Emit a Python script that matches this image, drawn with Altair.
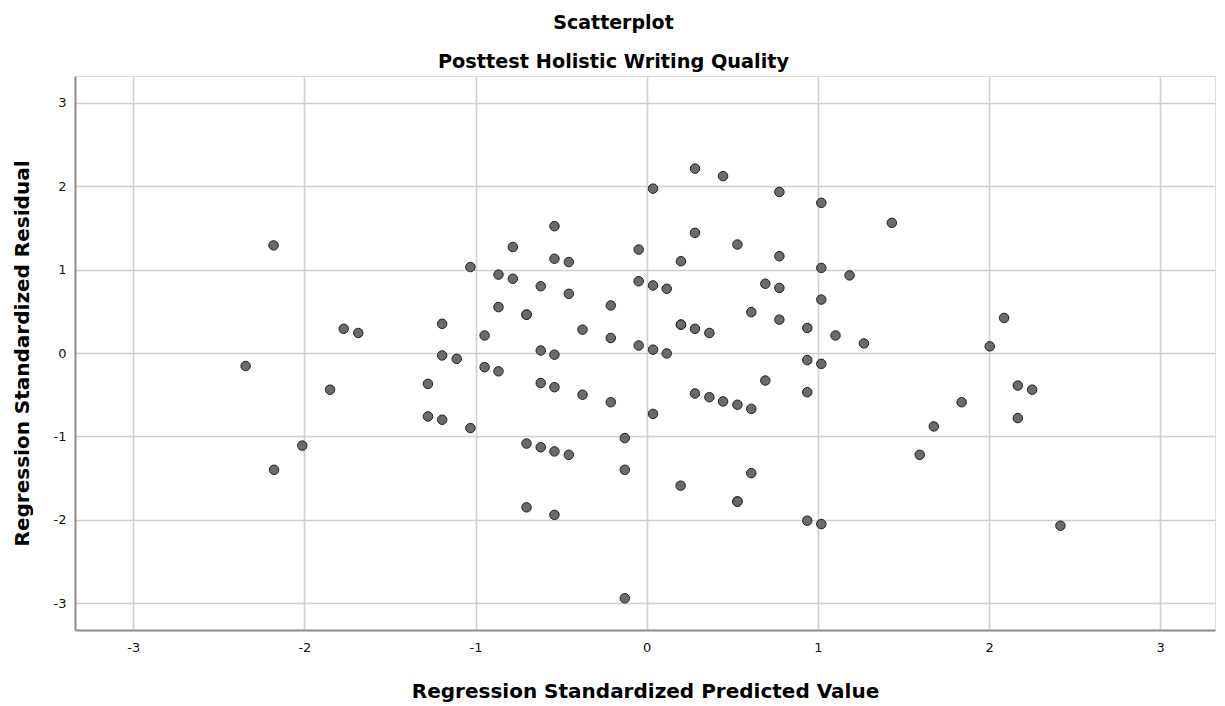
import altair as alt
import pandas as pd

# Regression standardized predicted values (x) and residuals (y)
pred = [
    -2.343, -2.18, -2.177, -2.012, -1.85, -1.77, -1.685,
    -1.278, -1.278, -1.195, -1.195, -1.195, -1.11, -1.03, -1.03,
    -0.947, -0.947, -0.866, -0.866, -0.866, -0.782, -0.782,
    -0.702, -0.702, -0.702, -0.702,
    -0.619, -0.619, -0.619, -0.619,
    -0.539, -0.539, -0.539, -0.539, -0.539, -0.539,
    -0.455, -0.455, -0.455, -0.375, -0.375,
    -0.21, -0.21, -0.21, -0.128, -0.128, -0.128,
    -0.047, -0.047, -0.047, 0.037, 0.037, 0.037, 0.037,
    0.117, 0.117, 0.2, 0.2, 0.2, 0.198,
    0.282, 0.282, 0.282, 0.282, 0.366, 0.366, 0.446, 0.446,
    0.53, 0.53, 0.53, 0.53, 0.611, 0.611, 0.611, 0.693, 0.693,
    0.775, 0.775, 0.775, 0.775, 0.938, 0.938, 0.938, 0.938,
    1.02, 1.02, 1.02, 1.02, 1.02, 1.103, 1.185, 1.269, 1.432,
    1.595, 1.677, 1.84, 2.004, 2.088, 2.168, 2.168, 2.252, 2.417,
]
resid = [
    -0.156, 1.29, -1.40, -1.11, -0.44, 0.29, 0.24,
    -0.37, -0.76, 0.35, -0.03, -0.80, -0.07, 1.03, -0.90,
    0.21, -0.17, 0.94, 0.55, -0.22, 1.27, 0.89,
    0.46, 0.46, -1.085, -1.85,
    0.80, 0.03, -0.36, -1.13,
    1.52, 1.13, -0.02, -0.41, -1.18, -1.94,
    1.09, 0.71, -1.22, 0.28, -0.50,
    0.57, 0.18, -0.59, -1.02, -1.40, -2.94,
    1.24, 0.86, 0.09, 1.97, 0.81, 0.04, -0.73,
    0.77, -0.005, 1.10, 0.34, 0.34, -1.59,
    2.21, 1.44, 0.29, -0.485, 0.24, -0.53, 2.12, -0.58,
    1.30, -0.62, -1.78, -1.78, 0.49, -0.67, -1.44, 0.83, -0.33,
    1.93, 1.16, 0.78, 0.40, 0.30, -0.085, -0.47, -2.01,
    1.80, 1.02, 0.64, -0.13, -2.05, 0.21, 0.93, 0.115, 1.56,
    -1.22, -0.88, -0.59, 0.08, 0.42, -0.39, -0.78, -0.44, -2.07,
]
tick_values = [-3, -2, -1, 0, 1, 2, 3]

df = pd.DataFrame({"pred": pred, "resid": resid})

FONT = "DejaVu Sans"

def axis(title, label_pad, title_pad):
    return alt.Axis(
        title=title,
        values=tick_values,
        labelExpr="'' + datum.value",
        ticks=False,
        tickSize=0,
        labelPadding=label_pad,
        labelFontSize=13,
        labelFont=FONT,
        labelColor="#111111",
        titleFont=FONT,
        titleFontSize=20,
        titleFontWeight="bold",
        titleColor="#000000",
        titlePadding=title_pad,
        domainColor="#8c8c8c",
        domainWidth=2,
        grid=True,
        gridColor="#cfcfcf",
        gridWidth=1.6,
    )

chart = (
    alt.Chart(df)
    .mark_circle(size=90, opacity=1, fill="#6b6b6b", stroke="#202020", strokeWidth=1)
    .encode(
        x=alt.X(
            "pred:Q",
            scale=alt.Scale(domain=[-3.34, 3.32], nice=False, zero=False),
            axis=axis("Regression Standardized Predicted Value", 11, 27),
        ),
        y=alt.Y(
            "resid:Q",
            scale=alt.Scale(domain=[-3.32, 3.32], nice=False, zero=False),
            axis=axis("Regression Standardized Residual", 9, 21),
        ),
    )
    .properties(
        width=1140,
        height=554,
        title=alt.Title(
            "Scatterplot",
            subtitle="Posttest Holistic Writing Quality",
            font=FONT,
            fontSize=19,
            fontWeight="bold",
            color="#000000",
            subtitleFont=FONT,
            subtitleFontSize=19.3,
            subtitleFontWeight="bold",
            subtitleColor="#000000",
            subtitlePadding=20,
            anchor="middle",
            frame="bounds",
            offset=4,
        ),
        autosize=alt.AutoSizeParams(type="none"),
        padding={"left": 75, "top": 76, "right": 10, "bottom": 76},
    )
    .configure_view(stroke=None)
    .configure(background="white")
)

chart.save("out.html", embed_options={"renderer": "svg", "actions": False})
